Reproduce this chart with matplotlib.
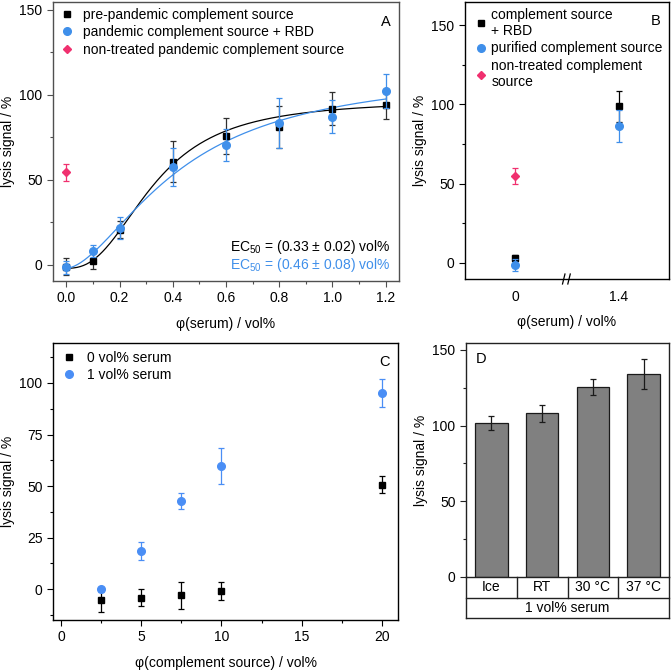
import numpy as np
import matplotlib
matplotlib.use("Agg")
import matplotlib.pyplot as plt
from matplotlib.lines import Line2D
from matplotlib.ticker import MultipleLocator
import matplotlib.transforms as mtransforms

plt.rcParams['font.family'] = ['Liberation Sans', 'DejaVu Sans']
plt.rcParams['mathtext.default'] = 'regular'
plt.rcParams['font.size'] = 10

# ---------------- data ----------------
# Panel A
a_x = [0.0, 0.1, 0.2, 0.4, 0.6, 0.8, 1.0, 1.2]
a_pre = [-1.0, 2.4, 20.8, 60.6, 75.7, 81.0, 92.0, 94.3]
a_pre_err = [5.0, 5.0, 5.0, 12.0, 10.5, 12.5, 9.5, 8.5]
a_rbd = [-1.5, 8.0, 21.5, 57.5, 70.4, 83.5, 87.3, 102.1]
a_rbd_err = [4.0, 3.5, 6.5, 11.0, 9.5, 14.5, 9.5, 10.0]
a_nt_x = [0.0]
a_nt = [54.5]
a_nt_err = [5.0]
# Hill fit parameters (A1, A2, EC50-like k, power)
fit_pre = (-2.0, 97.0, 0.33, 2.5)
fit_rbd = (-2.0, 115.0, 0.43, 1.7)

# Panel B
b_labels = ['0', '1.4']
b_rbd = [3.0, 98.7]
b_rbd_err = [2.0, 9.7]
b_pur = [-1.3, 86.5]
b_pur_err = [4.0, 10.0]
b_nt = [54.8]
b_nt_err = [5.3]

# Panel C
c_x = [2.5, 5.0, 7.5, 10.0, 20.0]
c_0 = [-5.5, -4.2, -3.1, -1.0, 50.7]
c_0_err = [5.5, 4.2, 6.7, 4.3, 4.3]
c_1 = [-0.2, 18.3, 42.6, 59.8, 95.3]
c_1_err = [1.0, 4.4, 3.8, 8.7, 6.8]

# Panel D
d_labels = ['Ice', 'RT', '30 °C', '37 °C']
d_vals = [101.6, 108.2, 125.8, 134.2]
d_err = [4.5, 5.5, 5.3, 10.0]

BLUE = '#3f8fea'
BLUE_C = '#4a8ef5'
PINK = '#f0306f'
FRAME_A = '#505050'


def hill(x, p):
    a1, a2, k, n = p
    xn = np.power(x, n)
    return a1 + (a2 - a1) * xn / (xn + k ** n)


W, H = 671, 670
fig = plt.figure(figsize=(W / 100, H / 100), dpi=100)


def rect(l, t, r, b):
    return [l / W, 1 - b / H, (r - l) / W, (b - t) / H]


def style(ax, color='black'):
    for s in ax.spines.values():
        s.set_color(color)
        s.set_linewidth(1.0)
    ax.tick_params(which='both', direction='out', top=False, right=False,
                   color=color, labelsize=10, width=0.8)
    ax.tick_params(which='major', length=4)
    ax.tick_params(which='minor', length=2.5)


ebkw = dict(capsize=2.3, elinewidth=0.9, capthick=0.9, linestyle='none')

# ---------------- Panel A ----------------
axA = fig.add_axes(rect(53, 2, 399, 281))
style(axA, FRAME_A)
xs = np.linspace(0, 1.2, 300)
axA.plot(xs, hill(xs, fit_pre), color='black', lw=0.9, zorder=2)
axA.plot(xs, hill(xs, fit_rbd), color=BLUE, lw=0.9, zorder=2)
axA.errorbar(a_x, a_pre, yerr=a_pre_err, marker='s', ms=5, color='black',
             ecolor='#303030', zorder=3, **ebkw)
axA.errorbar(a_x, a_rbd, yerr=a_rbd_err, marker='o', ms=5.5, color=BLUE,
             ecolor=BLUE, zorder=4, **ebkw)
axA.errorbar(a_nt_x, a_nt, yerr=a_nt_err, marker='D', ms=4.5, color=PINK,
             ecolor=PINK, zorder=4, **ebkw)
axA.set_xlim(-0.05, 1.25)
axA.set_ylim(-9.5, 154.7)
axA.xaxis.set_major_locator(MultipleLocator(0.2))
axA.xaxis.set_minor_locator(MultipleLocator(0.1))
axA.yaxis.set_major_locator(MultipleLocator(50))
axA.yaxis.set_minor_locator(MultipleLocator(25))
axA.set_xticklabels([f'{v:.1f}' for v in axA.get_xticks()])
axA.set_xlabel('φ(serum) / vol%', fontsize=10, labelpad=8)
axA.set_ylabel('lysis signal / %', fontsize=10, labelpad=3)
hA = [Line2D([], [], marker='s', ms=5, color='black', ls='none'),
      Line2D([], [], marker='o', ms=5.5, color=BLUE, ls='none'),
      Line2D([], [], marker='D', ms=4.5, color=PINK, ls='none')]
axA.legend(hA, ['pre-pandemic complement source',
                'pandemic complement source + RBD',
                'non-treated pandemic complement source'],
           loc='upper left', bbox_to_anchor=(-0.005, 1.012), frameon=False,
           fontsize=10, handlelength=1.0, handletextpad=0.6,
           labelspacing=0.25, borderaxespad=0.25)
axA.text(0.975, 0.955, 'A', transform=axA.transAxes, ha='right', va='top',
         fontsize=10.5)
axA.text(0.975, 0.122, r'EC$_{50}$ = (0.33 ± 0.02) vol%', transform=axA.transAxes,
         ha='right', va='center', fontsize=10, color='black')
axA.text(0.975, 0.057, r'EC$_{50}$ = (0.46 ± 0.08) vol%', transform=axA.transAxes,
         ha='right', va='center', fontsize=10, color=BLUE)

# ---------------- Panel B ----------------
axB = fig.add_axes(rect(465, 2, 669, 279))
style(axB, 'black')
bx = np.arange(len(b_labels))
axB.errorbar(bx, b_rbd, yerr=b_rbd_err, marker='s', ms=5, color='black',
             ecolor='black', zorder=3, **ebkw)
axB.errorbar(bx, b_pur, yerr=b_pur_err, marker='o', ms=5.5, color=BLUE,
             ecolor=BLUE, zorder=4, **ebkw)
axB.errorbar(bx[:1], b_nt, yerr=b_nt_err, marker='D', ms=4.5, color=PINK,
             ecolor=PINK, zorder=4, **ebkw)
axB.set_xlim(-0.48, 1.48)
axB.set_ylim(-10.1, 164.6)
axB.set_xticks(bx)
axB.set_xticklabels(b_labels)
axB.tick_params(axis='x', which='both', length=0, pad=8)
axB.yaxis.set_major_locator(MultipleLocator(50))
axB.yaxis.set_minor_locator(MultipleLocator(25))
axB.set_xlabel('φ(serum) / vol%', fontsize=10, labelpad=8)
axB.set_ylabel('lysis signal / %', fontsize=10, labelpad=3)
# axis break marks
for dx in (-0.016, 0.010):
    axB.plot([0.5 + dx - 0.006, 0.5 + dx + 0.006], [-0.018, 0.018],
             transform=axB.transAxes, color='black', lw=0.9, clip_on=False)
hB = [Line2D([], [], marker='s', ms=5, color='black', ls='none'),
      Line2D([], [], marker='o', ms=5.5, color=BLUE, ls='none'),
      Line2D([], [], marker='D', ms=4.5, color=PINK, ls='none')]
axB.legend(hB, ['complement source\n+ RBD', 'purified complement source',
                'non-treated complement\nsource'],
           loc='upper left', bbox_to_anchor=(0.0, 1.012), frameon=False,
           fontsize=10, handlelength=1.0, handletextpad=0.25,
           labelspacing=0.25, borderaxespad=0.25)
axB.text(0.96, 0.955, 'B', transform=axB.transAxes, ha='right', va='top',
         fontsize=10.5)

# ---------------- Panel C ----------------
axC = fig.add_axes(rect(53, 343, 398, 620))
style(axC, 'black')
axC.errorbar(c_x, c_0, yerr=c_0_err, marker='s', ms=5, color='black',
             ecolor='black', zorder=3, **ebkw)
axC.errorbar(c_x, c_1, yerr=c_1_err, marker='o', ms=5.5, color=BLUE_C,
             ecolor=BLUE_C, zorder=4, **ebkw)
axC.set_xlim(-0.5, 21.0)
axC.set_ylim(-15.0, 119.4)
axC.xaxis.set_major_locator(MultipleLocator(5))
axC.xaxis.set_minor_locator(MultipleLocator(2.5))
axC.yaxis.set_major_locator(MultipleLocator(25))
axC.yaxis.set_minor_locator(MultipleLocator(12.5))
axC.set_xlabel('φ(complement source) / vol%', fontsize=10, labelpad=8)
axC.set_ylabel('lysis signal / %', fontsize=10, labelpad=3)
hC = [Line2D([], [], marker='s', ms=5, color='black', ls='none'),
      Line2D([], [], marker='o', ms=5.5, color=BLUE_C, ls='none')]
axC.legend(hC, ['0 vol% serum', '1 vol% serum'],
           loc='upper left', bbox_to_anchor=(0.0, 1.005), frameon=False,
           fontsize=10, handlelength=1.0, handletextpad=0.8,
           labelspacing=0.25, borderaxespad=0.25)
axC.text(0.975, 0.955, 'C', transform=axC.transAxes, ha='right', va='top',
         fontsize=10.5)

# ---------------- Panel D ----------------
axD = fig.add_axes(rect(466, 343, 669, 577))
style(axD, '#222222')
dx_ = np.arange(len(d_labels))
axD.bar(dx_, d_vals, width=0.64, color='#808080', edgecolor='#1a1a1a',
        linewidth=0.9, zorder=2)
axD.errorbar(dx_, d_vals, yerr=d_err, color='#1a1a1a', zorder=3, **ebkw)
axD.set_xlim(-0.5, 3.5)
axD.set_ylim(0, 154.6)
axD.set_xticks([])
axD.yaxis.set_major_locator(MultipleLocator(50))
axD.yaxis.set_minor_locator(MultipleLocator(25))
axD.set_ylabel('lysis signal / %', fontsize=10, labelpad=3)
axD.text(0.05, 0.96, 'D', transform=axD.transAxes, ha='left', va='top',
         fontsize=10.5)
# category table below the axis
row_h = 20.5 / 234
ln = dict(color='#222222', lw=1.0, clip_on=False)
axD.plot([0, 0], [0, -2 * row_h], transform=axD.transAxes, **ln)
axD.plot([1, 1], [0, -2 * row_h], transform=axD.transAxes, **ln)
axD.plot([0, 1], [-row_h, -row_h], transform=axD.transAxes, **ln)
axD.plot([0, 1], [-2 * row_h, -2 * row_h], transform=axD.transAxes, **ln)
trD = mtransforms.blended_transform_factory(axD.transData, axD.transAxes)
for sep in dx_[:-1] + 0.5:
    axD.plot([sep, sep], [0, -row_h], transform=trD, **ln)
for xi, lab in zip(dx_, d_labels):
    axD.text(xi, -row_h / 2, lab, transform=trD, ha='center', va='center',
             fontsize=10)
axD.text(0.5, -1.5 * row_h, '1 vol% serum', transform=axD.transAxes,
         ha='center', va='center', fontsize=10)

fig.savefig('out.png', dpi=100)
